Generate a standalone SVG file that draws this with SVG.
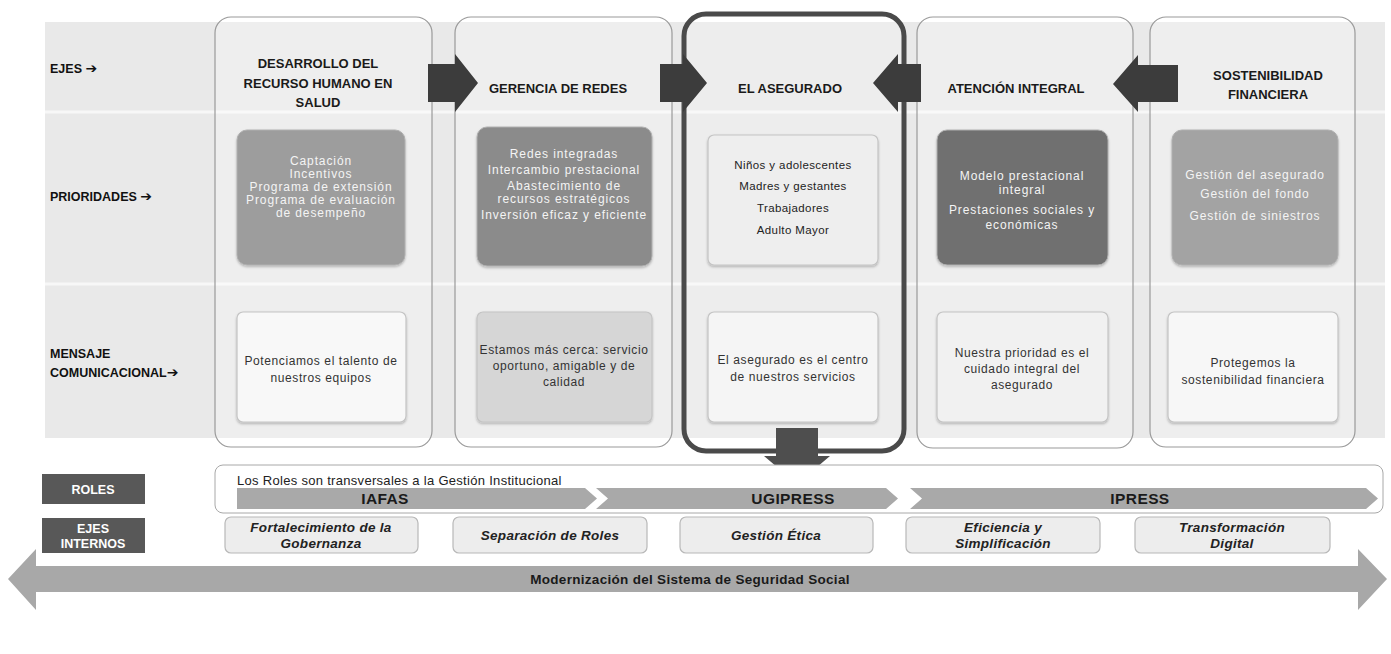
<svg xmlns="http://www.w3.org/2000/svg" width="1391" height="654" viewBox="0 0 1391 654">
<defs>
<style>
text{font-family:"Liberation Sans",Arial,sans-serif;}
.lbl{font-size:12.5px;font-weight:bold;fill:#111;}
.ar{font-family:"DejaVu Sans",sans-serif;font-size:14px;}
.ttl{font-size:13px;font-weight:bold;fill:#1a1a1a;text-anchor:middle;}
.pri{font-size:12px;fill:#f4f4f4;text-anchor:middle;letter-spacing:0.9px;}
.pri3{font-size:11.5px;fill:#222;text-anchor:middle;letter-spacing:0.4px;}
.msg{font-size:12px;fill:#333;text-anchor:middle;letter-spacing:0.6px;}
.col{fill:#ffffff;fill-opacity:0.25;stroke:#9a9a9a;stroke-width:1.2;}
.pbox{stroke:#b0b0b0;stroke-width:1;}
.mbox{stroke:#c4c4c4;stroke-width:1.2;}
.dark{fill:#585858;}
.wlbl{font-size:12.5px;font-weight:bold;fill:#fff;text-anchor:middle;}
.chev{fill:#a9a9a9;}
.chevt{font-size:15.5px;font-weight:bold;fill:#1a1a1a;text-anchor:middle;letter-spacing:0.4px;}
.ibox{fill:#ededed;stroke:#b8b8b8;stroke-width:1.2;}
.itxt{font-size:13.5px;font-weight:bold;font-style:italic;fill:#222;text-anchor:middle;letter-spacing:0.3px;}
.arr{fill:#3c3c3c;}
</style>
<filter id="sh" x="-10%" y="-10%" width="120%" height="130%">
<feDropShadow dx="0" dy="1.5" stdDeviation="1.2" flood-color="#000" flood-opacity="0.25"/>
</filter>
</defs>
<rect width="1391" height="654" fill="#ffffff"/>

<g id="band">
<rect x="45" y="22" width="1340" height="416" fill="#e9e9e9"/>
<line x1="45" y1="112" x2="1385" y2="112" stroke="#f7f7f7" stroke-width="3"/>
<line x1="45" y1="284" x2="1385" y2="284" stroke="#f7f7f7" stroke-width="3"/>
<text class="lbl" x="50" y="73">EJES <tspan class="ar">➔</tspan></text>
<text class="lbl" x="50" y="201">PRIORIDADES <tspan class="ar">➔</tspan></text>
<text class="lbl" x="50" y="358">MENSAJE</text>
<text class="lbl" x="50" y="377">COMUNICACIONAL<tspan class="ar">➔</tspan></text>
</g>

<g id="col1">
<rect class="col" x="215" y="17" width="217" height="430" rx="16"/>
<text class="ttl" x="318" y="68">DESARROLLO DEL</text>
<text class="ttl" x="318" y="88">RECURSO HUMANO EN</text>
<text class="ttl" x="318" y="107">SALUD</text>
<rect class="pbox" x="237" y="130" width="168" height="135" rx="10" fill="#9d9d9d" filter="url(#sh)"/>
<text class="pri" x="321" y="165">Captación</text>
<text class="pri" x="321" y="178">Incentivos</text>
<text class="pri" x="321" y="191">Programa de extensión</text>
<text class="pri" x="321" y="204">Programa de evaluación</text>
<text class="pri" x="321" y="217">de desempeño</text>
<rect class="mbox" x="237" y="312" width="169" height="110" rx="6" fill="#f8f8f8" filter="url(#sh)"/>
<text class="msg" x="321" y="365">Potenciamos el talento de</text>
<text class="msg" x="321" y="382">nuestros equipos</text>
</g>

<g id="col2">
<rect class="col" x="455" y="17" width="217" height="430" rx="16"/>
<text class="ttl" x="558" y="93">GERENCIA DE REDES</text>
<rect class="pbox" x="477" y="127" width="175" height="139" rx="10" fill="#8b8b8b" filter="url(#sh)"/>
<text class="pri" x="564" y="158">Redes integradas</text>
<text class="pri" x="564" y="174">Intercambio prestacional</text>
<text class="pri" x="564" y="190">Abastecimiento de</text>
<text class="pri" x="564" y="203">recursos estratégicos</text>
<text class="pri" x="564" y="219" letter-spacing="0.4">Inversión eficaz y eficiente</text>
<rect class="mbox" x="477" y="312" width="175" height="110" rx="6" fill="#d6d6d6" filter="url(#sh)"/>
<text class="msg" x="564" y="354">Estamos más cerca: servicio</text>
<text class="msg" x="564" y="370">oportuno, amigable y de</text>
<text class="msg" x="564" y="386">calidad</text>
</g>

<g id="col3">
<rect x="684" y="14" width="220" height="437" rx="22" fill="#ffffff" fill-opacity="0.2" stroke="#4a4a4a" stroke-width="5"/>
<text class="ttl" x="790" y="93">EL ASEGURADO</text>
<rect class="mbox" x="708" y="135" width="170" height="130" rx="6" fill="#eeeeee" filter="url(#sh)"/>
<text class="pri3" x="793" y="169">Niños y adolescentes</text>
<text class="pri3" x="793" y="190">Madres y gestantes</text>
<text class="pri3" x="793" y="212">Trabajadores</text>
<text class="pri3" x="793" y="234">Adulto Mayor</text>
<rect class="mbox" x="708" y="312" width="170" height="110" rx="6" fill="#f5f5f5" filter="url(#sh)"/>
<text class="msg" x="793" y="364">El asegurado es el centro</text>
<text class="msg" x="793" y="381">de nuestros servicios</text>
</g>

<g id="col4">
<rect class="col" x="917" y="17" width="216" height="431" rx="16"/>
<text class="ttl" x="1016" y="93">ATENCIÓN INTEGRAL</text>
<rect class="pbox" x="937" y="130" width="171" height="135" rx="10" fill="#6f6f6f" filter="url(#sh)"/>
<text class="pri" x="1022" y="180">Modelo prestacional</text>
<text class="pri" x="1022" y="194">integral</text>
<text class="pri" x="1022" y="214">Prestaciones sociales y</text>
<text class="pri" x="1022" y="229">económicas</text>
<rect class="mbox" x="937" y="312" width="171" height="110" rx="6" fill="#f1f1f1" filter="url(#sh)"/>
<text class="msg" x="1022" y="357">Nuestra prioridad es el</text>
<text class="msg" x="1022" y="373">cuidado integral del</text>
<text class="msg" x="1022" y="389">asegurado</text>
</g>

<g id="col5">
<rect class="col" x="1150" y="17" width="205" height="430" rx="16"/>
<text class="ttl" x="1268" y="80">SOSTENIBILIDAD</text>
<text class="ttl" x="1268" y="99">FINANCIERA</text>
<rect class="pbox" x="1172" y="130" width="166" height="135" rx="10" fill="#a3a3a3" filter="url(#sh)"/>
<text class="pri" x="1255" y="179">Gestión del asegurado</text>
<text class="pri" x="1255" y="198">Gestión del fondo</text>
<text class="pri" x="1255" y="220">Gestión de siniestros</text>
<rect class="mbox" x="1168" y="312" width="170" height="110" rx="6" fill="#f7f7f7" filter="url(#sh)"/>
<text class="msg" x="1253" y="367">Protegemos la</text>
<text class="msg" x="1253" y="384">sostenibilidad financiera</text>
</g>

<g id="connectors">
<polygon class="arr" points="428,64 455,64 455,54 478,83 455,112 455,102 428,102"/>
<polygon class="arr" points="660,64 683,64 683,54 707,83 683,112 683,102 660,102"/>
<polygon class="arr" points="921,64 898,64 898,54 873,83 898,112 898,102 921,102"/>
<polygon class="arr" points="1178,65 1138,65 1138,55 1113,84 1138,112 1138,102 1178,102"/>
<polygon fill="#4e4e4e" points="776,428 818,428 818,456 830,456 797,484 764,456 776,456"/>
</g>

<g id="roles">
<rect x="215" y="465" width="1168" height="48" rx="8" fill="#ffffff" stroke="#a8a8a8" stroke-width="1"/>
<text x="237" y="485" font-size="13" fill="#222" letter-spacing="0.3">Los Roles son transversales a la Gestión Institucional</text>
<rect class="dark" x="42" y="474" width="103" height="30"/>
<text class="wlbl" x="93" y="494">ROLES</text>
</g>
<g id="iafas">
<polygon class="chev" points="237,488 585,488 597,498.5 585,509 237,509"/>
<text class="chevt" x="385" y="504">IAFAS</text>
</g>
<g id="ugipress">
<polygon class="chev" points="596,488 886,488 898,498.5 886,509 596,509 608,498.5"/>
<text class="chevt" x="793" y="504">UGIPRESS</text>
</g>
<g id="ipress">
<polygon class="chev" points="910,488 1366,488 1378,498.5 1366,509 910,509 922,498.5"/>
<text class="chevt" x="1140" y="504">IPRESS</text>
</g>

<g id="ejes-internos">
<rect class="dark" x="42" y="518" width="103" height="35"/>
<text class="wlbl" x="93" y="533">EJES</text>
<text class="wlbl" x="93" y="548">INTERNOS</text>
</g>
<g id="ei1">
<rect class="ibox" x="225" y="517" width="193" height="36" rx="6"/>
<text class="itxt" x="321" y="532">Fortalecimiento de la</text>
<text class="itxt" x="321" y="548">Gobernanza</text>
</g>
<g id="ei2">
<rect class="ibox" x="453" y="517" width="194" height="36" rx="6"/>
<text class="itxt" x="550" y="540">Separación de Roles</text>
</g>
<g id="ei3">
<rect class="ibox" x="680" y="517" width="193" height="36" rx="6"/>
<text class="itxt" x="776" y="540">Gestión Ética</text>
</g>
<g id="ei4">
<rect class="ibox" x="906" y="517" width="194" height="36" rx="6"/>
<text class="itxt" x="1003" y="532">Eficiencia y</text>
<text class="itxt" x="1003" y="548">Simplificación</text>
</g>
<g id="ei5">
<rect class="ibox" x="1135" y="517" width="195" height="36" rx="6"/>
<text class="itxt" x="1232" y="532">Transformación</text>
<text class="itxt" x="1232" y="548">Digital</text>
</g>

<g id="modernizacion">
<polygon fill="#a8a8a8" points="8,579 36,549 36,566 1358,566 1358,549 1387,579 1358,610 1358,592 36,592 36,610"/>
<text x="690" y="584" font-size="13.5" font-weight="bold" fill="#1a1a1a" text-anchor="middle" letter-spacing="0.3">Modernización del Sistema de Seguridad Social</text>
</g>
</svg>
